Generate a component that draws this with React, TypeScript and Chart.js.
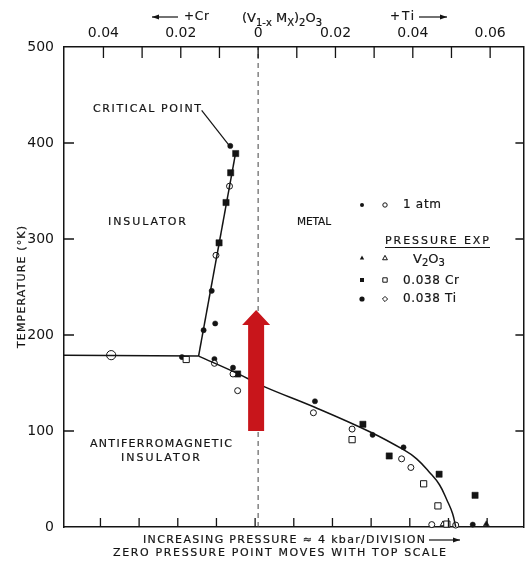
import React, { useEffect, useRef } from 'react';
import { Chart, registerables } from 'chart.js';

Chart.register(...registerables);

const FONT = '"DejaVu Sans", sans-serif';
const INK = '#141414';

// ---- axes ----
const xMin = -0.0502;
const xMax = 0.0686;
const yMin = 0;
const yMax = 500;
const compositionTicks = [-0.04, -0.03, -0.02, -0.01, 0, 0.01, 0.02, 0.03, 0.04, 0.05, 0.06];
const temperatureTicks = [0, 100, 200, 300, 400, 500];
const sideTicks = [100, 200, 300, 400];

// ---- phase boundaries [composition, T(K)] ----
const neelLine = [[-0.0502, 179], [-0.0154, 178]];
const mitLine = [[-0.0154, 178], [-0.0059, 388]];
const pointerLine = [[-0.0146, 434], [-0.0072, 396]];
const metalAfLine = [
  [-0.0154, 178], [-0.0054, 160], [0.0017, 146], [0.0145, 125], [0.029, 99],
  [0.0376, 80.5], [0.041, 71], [0.0444, 56.6], [0.0469, 44], [0.0489, 27.4],
  [0.0503, 13.9], [0.0511, 0],
];
const zeroLine = [[0, 0], [0, 500]];
const arrowFrom = [0, 100];
const arrowTo = [0, 226];

// ---- measured points [composition, T(K)] ----
const filledCircles = [
  [-0.0072, 397], [-0.012, 246], [-0.0111, 212], [-0.0141, 205], [-0.0197, 177],
  [-0.0113, 175], [-0.0065, 166], [0.0147, 131], [0.0296, 96], [0.0376, 83], [0.0555, 2.5],
];
const openCircles = [
  [-0.0074, 355], [-0.0109, 283], [-0.0113, 170.5], [-0.0065, 159.4], [-0.0053, 142],
  [0.0143, 119], [0.0243, 102], [0.0371, 71], [0.0395, 62], [0.0449, 2.5], [0.0511, 2],
];
const filledSquares = [
  [-0.0058, 389], [-0.0071, 369], [-0.0083, 338], [-0.0101, 296], [-0.0053, 159.4],
  [0.0271, 107], [0.0339, 74], [0.0468, 55], [0.0561, 33],
];
const openSquares = [
  [-0.0186, 174.5], [0.0243, 91], [0.0428, 45], [0.0465, 22], [0.0488, 3],
];
const openTriangles = [[0.0478, 3]];
const filledTriangles = [[0.059, 3]];
const circledPoints = [[-0.038, 179]];

const pts = (a: number[][]) => a.map(([x, y]) => ({ x, y }));

function fitText(ctx: any, text: string, x: number, y: number, width: number, size: number, heavy = 0.2) {
  ctx.font = `${size}px ${FONT}`;
  ctx.fillStyle = INK;
  ctx.strokeStyle = INK;
  ctx.letterSpacing = '0px';
  const w = ctx.measureText(text).width;
  const n = Array.from(text).length;
  const ls = n > 1 ? (width - w) / (n - 1) : 0;
  ctx.letterSpacing = `${ls.toFixed(3)}px`;
  ctx.textAlign = 'left';
  ctx.textBaseline = 'middle';
  ctx.fillText(text, x, y);
  if (heavy > 0) {
    ctx.lineWidth = heavy;
    ctx.strokeText(text, x, y);
  }
  ctx.letterSpacing = '0px';
}

function runs(ctx: any, parts: [string, number, number][], x: number, y: number) {
  let cx = x;
  ctx.fillStyle = INK;
  ctx.strokeStyle = INK;
  ctx.lineWidth = 0.2;
  ctx.textAlign = 'left';
  ctx.textBaseline = 'alphabetic';
  ctx.letterSpacing = '0px';
  for (const [t, size, dy] of parts) {
    ctx.font = `${size}px ${FONT}`;
    ctx.fillText(t, cx, y + dy);
    ctx.strokeText(t, cx, y + dy);
    cx += ctx.measureText(t).width;
  }
}

function hArrow(ctx: any, x1: number, x2: number, y: number) {
  ctx.strokeStyle = INK;
  ctx.fillStyle = INK;
  ctx.lineWidth = 1.2;
  ctx.beginPath();
  ctx.moveTo(x1, y);
  ctx.lineTo(x2, y);
  ctx.stroke();
  const d = x2 > x1 ? -1 : 1;
  ctx.beginPath();
  ctx.moveTo(x2, y);
  ctx.lineTo(x2 + d * 7, y - 2.5);
  ctx.lineTo(x2 + d * 7, y + 2.5);
  ctx.closePath();
  ctx.fill();
}

function marker(ctx: any, kind: string, filled: boolean, x: number, y: number, r: number) {
  ctx.beginPath();
  if (kind === 'circle') ctx.arc(x, y, r, 0, Math.PI * 2);
  else if (kind === 'rect') ctx.rect(x - r, y - r, 2 * r, 2 * r);
  else if (kind === 'triangle') {
    ctx.moveTo(x, y - r * 1.2);
    ctx.lineTo(x + r * 1.1, y + r * 0.8);
    ctx.lineTo(x - r * 1.1, y + r * 0.8);
    ctx.closePath();
  } else if (kind === 'diamond') {
    ctx.moveTo(x, y - r);
    ctx.lineTo(x + r, y);
    ctx.lineTo(x, y + r);
    ctx.lineTo(x - r, y);
    ctx.closePath();
  }
  if (filled) {
    ctx.fillStyle = INK;
    ctx.fill();
  } else {
    ctx.fillStyle = '#fff';
    ctx.fill();
    ctx.lineWidth = 1;
    ctx.strokeStyle = INK;
    ctx.stroke();
  }
  ctx.fillStyle = INK;
}

const decor = {
  id: 'decor',
  afterDatasetsDraw(chart: any) {
    const { ctx } = chart;
    const xs = chart.scales.x;
    const ys = chart.scales.y;
    const cx = xs.getPixelForValue(arrowFrom[0]) - 2;
    const yb = ys.getPixelForValue(arrowFrom[1]);
    const yt = ys.getPixelForValue(arrowTo[1]);
    const headLen = 15;
    const shaft = 8;
    const head = 14;
    ctx.save();
    ctx.fillStyle = '#c8151b';
    ctx.beginPath();
    ctx.moveTo(cx - shaft, yb);
    ctx.lineTo(cx - shaft, yt + headLen);
    ctx.lineTo(cx - head, yt + headLen);
    ctx.lineTo(cx, yt);
    ctx.lineTo(cx + head, yt + headLen);
    ctx.lineTo(cx + shaft, yt + headLen);
    ctx.lineTo(cx + shaft, yb);
    ctx.closePath();
    ctx.fill();
    ctx.restore();
  },
  afterDraw(chart: any) {
    const { ctx, chartArea } = chart;
    const xs = chart.scales.x;
    const ys = chart.scales.y;
    const { left, right, top, bottom } = chartArea;
    ctx.save();
    ctx.strokeStyle = INK;
    ctx.fillStyle = INK;
    ctx.lineWidth = 1.3;
    // inward ticks
    for (const v of compositionTicks) {
      const px = xs.getPixelForValue(v);
      ctx.beginPath();
      ctx.moveTo(px, top);
      ctx.lineTo(px, top + 11);
      ctx.moveTo(px - 3, bottom);
      ctx.lineTo(px - 3, bottom - 9);
      ctx.stroke();
    }
    for (const v of sideTicks) {
      const py = ys.getPixelForValue(v);
      ctx.beginPath();
      ctx.moveTo(left, py);
      ctx.lineTo(left + 10, py);
      ctx.moveTo(right, py);
      ctx.lineTo(right - 8, py);
      ctx.stroke();
    }

    // y title
    ctx.save();
    ctx.translate(22, (top + bottom) / 2);
    ctx.rotate(-Math.PI / 2);
    fitText(ctx, 'TEMPERATURE (°K)', -61, 0, 122, 11);
    ctx.restore();

    // header
    hArrow(ctx, 178, 152, 17);
    fitText(ctx, '+Cr', 184, 17, 25, 12);
    runs(ctx, [['(V', 13, 0], ['1-x', 10, 4], [' M', 13, 0], ['X', 10, 4], [')', 13, 0], ['2', 10, 4], ['O', 13, 0], ['3', 10, 4]], 242, 22);
    fitText(ctx, '+Ti', 390, 17, 24, 12);
    hArrow(ctx, 419, 447, 17);

    // region labels
    fitText(ctx, 'CRITICAL POINT', 93, 109, 108, 11);
    fitText(ctx, 'INSULATOR', 108, 222, 78, 11);
    fitText(ctx, 'METAL', 297, 222, 34, 10.5);
    fitText(ctx, 'ANTIFERROMAGNETIC', 90, 444, 142, 11);
    fitText(ctx, 'INSULATOR', 121, 458, 79, 11);

    // legend
    marker(ctx, 'circle', true, 362, 205, 2);
    marker(ctx, 'circle', false, 385, 205, 2.2);
    fitText(ctx, '1 atm', 403, 205, 38, 12);
    fitText(ctx, 'PRESSURE EXP', 385, 241, 104, 11);
    ctx.lineWidth = 1;
    ctx.strokeStyle = INK;
    ctx.beginPath();
    ctx.moveTo(385, 247.5);
    ctx.lineTo(490, 247.5);
    ctx.stroke();
    marker(ctx, 'triangle', true, 362, 258, 2);
    marker(ctx, 'triangle', false, 385, 258, 2.2);
    runs(ctx, [['V', 13, 0], ['2', 10, 3], ['O', 13, 0], ['3', 10, 3]], 413, 263);
    marker(ctx, 'rect', true, 362, 280, 2);
    marker(ctx, 'rect', false, 385, 280, 2.2);
    fitText(ctx, '0.038 Cr', 403, 281, 56, 12);
    marker(ctx, 'circle', true, 362, 299, 2.6);
    marker(ctx, 'diamond', false, 385, 299, 2.6);
    fitText(ctx, '0.038 Ti', 403, 299, 53, 12);

    // bottom texts
    fitText(ctx, 'INCREASING PRESSURE ≈ 4 kbar/DIVISION', 143, 540, 282, 11);
    hArrow(ctx, 429, 460, 540);
    fitText(ctx, 'ZERO PRESSURE POINT MOVES WITH TOP SCALE', 113, 553, 333, 11);
    ctx.restore();
  },
};

function lineSet(data: number[][], extra: any = {}) {
  return {
    type: 'line',
    data: pts(data),
    showLine: true,
    borderColor: INK,
    borderWidth: 1.5,
    pointRadius: 0,
    fill: false,
    ...extra,
  };
}

function pointSet(data: number[][], style: string, radius: number, filled: boolean) {
  return {
    type: 'scatter',
    data: pts(data),
    pointStyle: style,
    pointRadius: radius,
    pointBackgroundColor: filled ? INK : '#ffffff',
    pointBorderColor: INK,
    pointBorderWidth: filled ? 0.5 : 1,
    showLine: false,
    clip: false,
  };
}

export default function App() {
  const ref = useRef<HTMLCanvasElement | null>(null);
  useEffect(() => {
    document.body.style.margin = '0';
    const canvas = ref.current;
    if (!canvas) return;
    const tickFont = { family: FONT, size: 14, lineHeight: 1 };
    const chart = new Chart(canvas, {
      type: 'scatter',
      data: {
        datasets: [
          lineSet(zeroLine, { borderDash: [5, 4], borderWidth: 1, borderColor: '#444' }),
          lineSet(neelLine),
          lineSet(mitLine),
          lineSet(pointerLine, { borderWidth: 1.2 }),
          lineSet(metalAfLine, { tension: 0.4 }),
          pointSet(openCircles, 'circle', 3, false),
          pointSet(openSquares, 'rect', 4.4, false),
          pointSet(openTriangles, 'triangle', 3.2, false),
          pointSet(filledCircles, 'circle', 2.6, true),
          pointSet(filledSquares, 'rect', 4.4, true),
          pointSet(filledTriangles, 'triangle', 3.4, true),
          pointSet(circledPoints, 'circle', 4.6, false),
          pointSet(circledPoints, 'circle', 2.6, true),
        ] as any,
      },
      options: {
        responsive: false,
        animation: false,
        devicePixelRatio: 1,
        layout: { padding: 0 },
        plugins: { legend: { display: false }, tooltip: { enabled: false } },
        scales: {
          x: {
            type: 'linear',
            position: 'top',
            min: xMin,
            max: xMax,
            afterFit: (s: any) => { s.height = 47; },
            afterBuildTicks: (s: any) => { s.ticks = compositionTicks.map((v) => ({ value: v })); },
            ticks: {
              autoSkip: false,
              maxRotation: 0,
              padding: -1,
              color: INK,
              font: tickFont,
              callback: (v: any) => {
                const k = Math.round(Number(v) * 100);
                if (k % 2 !== 0) return '';
                return k === 0 ? '0' : Math.abs(Number(v)).toFixed(2);
              },
            },
            grid: { display: false },
            border: { display: true, color: INK, width: 1.5 },
          },
          xb: {
            type: 'linear',
            position: 'bottom',
            min: xMin,
            max: xMax,
            afterFit: (s: any) => { s.height = 38; },
            ticks: { display: false },
            grid: { display: false },
            border: { display: true, color: INK, width: 1.5 },
          },
          y: {
            type: 'linear',
            position: 'left',
            min: yMin,
            max: yMax,
            afterFit: (s: any) => { s.width = 64; },
            afterBuildTicks: (s: any) => { s.ticks = temperatureTicks.map((v) => ({ value: v })); },
            ticks: { padding: 2, color: INK, font: tickFont },
            grid: { display: false },
            border: { display: true, color: INK, width: 1.5 },
          },
          yr: {
            type: 'linear',
            position: 'right',
            min: yMin,
            max: yMax,
            afterFit: (s: any) => { s.width = 1; },
            ticks: { display: false },
            grid: { display: false },
            border: { display: true, color: INK, width: 1.5 },
          },
        },
      } as any,
      plugins: [decor],
    });
    return () => chart.destroy();
  }, []);
  return <canvas ref={ref} width={529} height={565} style={{ display: 'block' }} />;
}
